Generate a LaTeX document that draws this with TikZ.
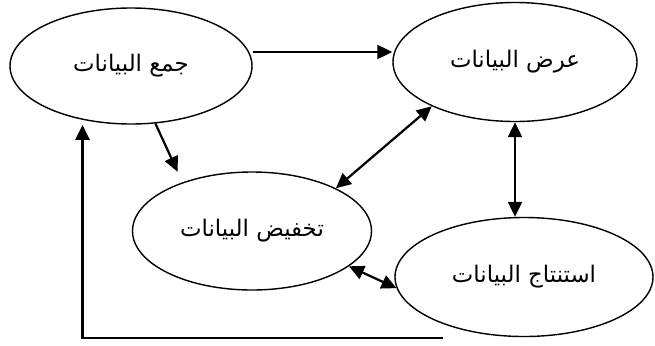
\documentclass[tikz,border=0pt]{standalone}
\usepackage{fontspec}
\newfontfamily\arabicfont[Script=Arabic]{DejaVu Sans}
\TeXXeTstate=1
\usetikzlibrary{shapes.geometric,arrows.meta}

\begin{document}
\begin{tikzpicture}[
    stage/.style={draw, ellipse, line width=1.2pt, inner sep=0pt, font=\arabicfont\fontsize{19.5}{22}\selectfont},
    arr/.style={line width=1.9pt, -{Triangle[length=0.45cm,width=0.42cm]}},
    biarr/.style={line width=1.9pt, {Triangle[length=0.45cm,width=0.42cm]}-{Triangle[length=0.45cm,width=0.42cm]}}
]
    % Fix the page size
    \useasboundingbox (0,0) rectangle (19.65,-10.35);

    % Define the four stages
    \node[stage, minimum width=7.26cm, minimum height=3.48cm] (jam) at (3.93,-1.98) {\beginR جمع البيانات\endR};
    \node[stage, minimum width=7.32cm, minimum height=3.57cm] (ard) at (15.45,-1.86) {\beginR عرض البيانات\endR};
    \node[stage, minimum width=7.17cm, minimum height=3.54cm] (takhfid) at (7.56,-6.93) {\beginR تخفيض البيانات\endR};
    \node[stage, minimum width=7.74cm, minimum height=3.57cm] (istintaj) at (15.72,-8.31) {\beginR استنتاج البيانات\endR};

    % Helper points
    \coordinate (toprow) at (0,-1.56);
    \coordinate (fb) at (13.29,-10.14);

    % Connectors
    \draw[arr] (jam.east |- toprow) -- (ard.west |- toprow);
    \draw[arr, shorten >=0.35cm] (jam.-67) -- (takhfid.145);
    \draw[biarr] (ard.-152) -- (takhfid.27);
    \draw[biarr] (ard.south) -- (ard.south |- istintaj.north);
    \draw[biarr] (takhfid.-20) -- (istintaj.-175);

    % Feedback line back to the first stage
    \draw[arr, shorten >=0.15cm] (fb) -| (jam.-132);
\end{tikzpicture}
\end{document}
